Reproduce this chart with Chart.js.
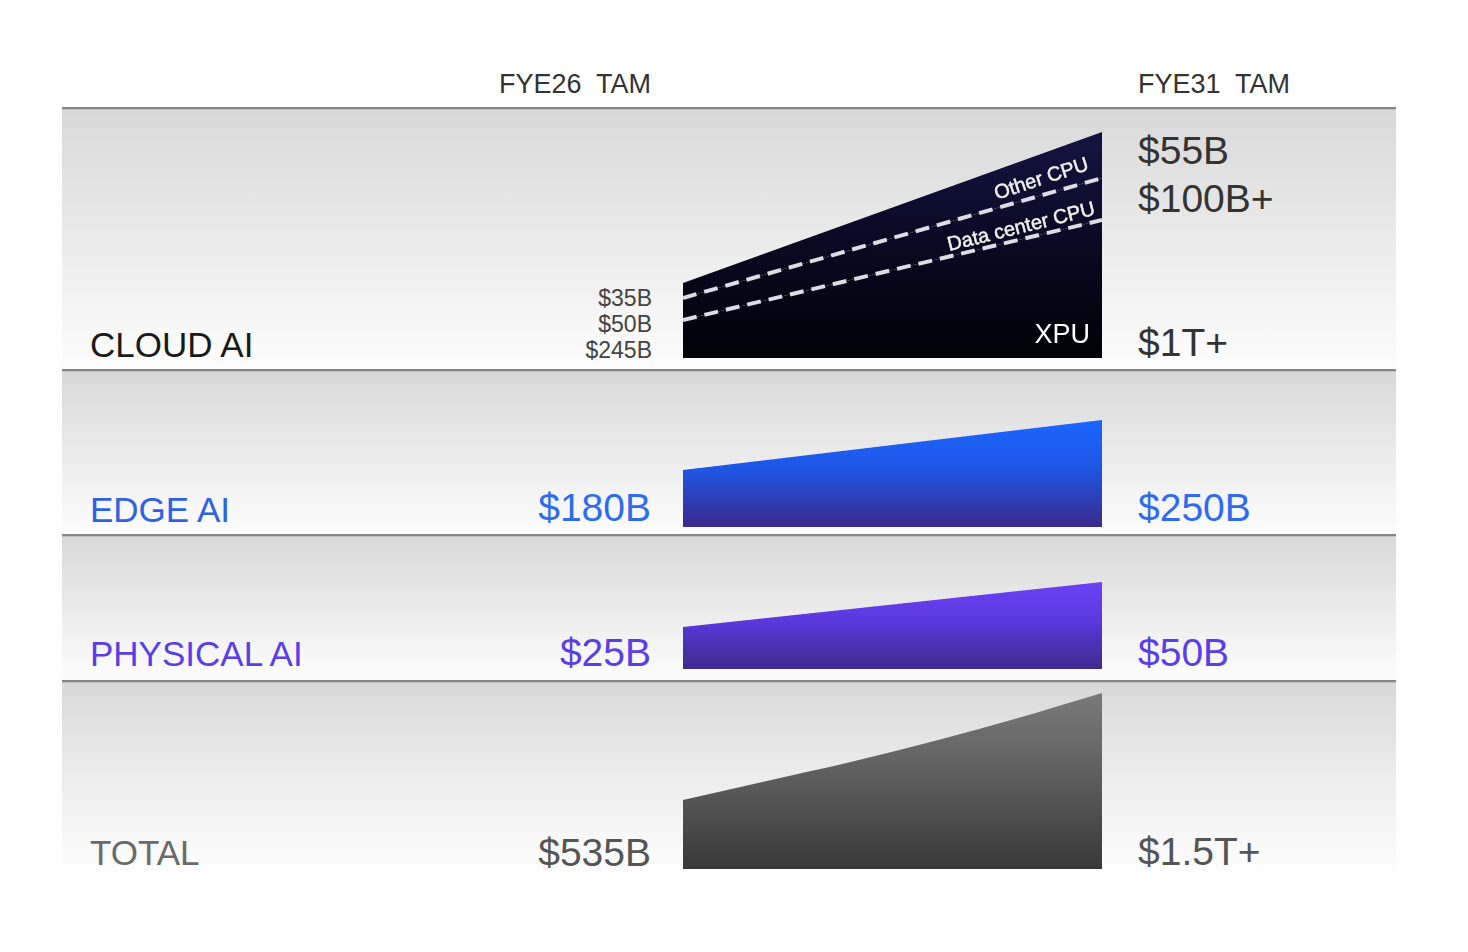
<!DOCTYPE html>
<html>
<head>
<meta charset="utf-8">
<script src="https://cdn.jsdelivr.net/npm/chart.js@4.4.1/dist/chart.umd.min.js"></script>
<style>
  html, body { margin: 0; padding: 0; background: #ffffff; }
  body { width: 1468px; height: 952px; position: relative; overflow: hidden;
         font-family: "Liberation Sans", Arial, Helvetica, sans-serif; }
  .band { position: absolute; left: 62px; width: 1334px;
          background: linear-gradient(to bottom, #d9d9d9 0%, #e9e9e9 45%, #fdfdfd 100%); }
  .rule { position: absolute; left: 62px; width: 1334px; height: 2px; background: #868686;
          box-shadow: 0 1px 0 #c0c0c0; }
  .txt { position: absolute; white-space: pre; line-height: 1; }
  canvas { position: absolute; }
</style>
</head>
<body>
<div class="band" style="top:110px;height:259px"></div>
<div class="band" style="top:372px;height:162px"></div>
<div class="band" style="top:537px;height:143px"></div>
<div class="band" style="top:683px;height:190px;background:linear-gradient(to bottom,#d9d9d9 0%,#ebebeb 45%,#fefefe 100%)"></div>
<div class="rule" style="top:107px"></div>
<div class="rule" style="top:369px"></div>
<div class="rule" style="top:534px"></div>
<div class="rule" style="top:680px"></div>

<canvas id="cCloud" width="419" height="238" style="left:683px;top:120px"></canvas>
<canvas id="cEdge" width="419" height="117" style="left:683px;top:410px"></canvas>
<canvas id="cPhys" width="419" height="99" style="left:683px;top:570px"></canvas>
<canvas id="cTotal" width="419" height="184" style="left:683px;top:685px"></canvas>

<script>
// ---- data (shape heights; FYE26 -> FYE31) ----
const years = [26, 31];
const cloudXPU = [38, 138];
const cloudDataCenterCPU = [22, 42];
const cloudOtherCPU = [15, 46];
const edgeAI = [57, 107];
const physicalAI = [42, 87];
const totalYears = [26, 27, 28, 29, 30, 31];
const totalAI = [69, 88, 107, 128, 151, 176];

// ---- text ----
const headers = ['FYE26  TAM', 'FYE31  TAM'];
const rowNames = ['CLOUD AI', 'EDGE AI', 'PHYSICAL AI', 'TOTAL'];
const tamFYE26 = ['$180B', '$25B', '$535B'];      // edge, physical, total
const tamFYE31 = ['$250B', '$50B', '$1.5T+'];     // edge, physical, total
const cloudSegNames = ['Other CPU', 'Data center CPU', 'XPU'];
const cloudFYE26 = ['$35B', '$50B', '$245B'];
const cloudFYE31 = ['$55B', '$100B+', '$1T+'];

function pts(xs, ys) { return xs.map((x, i) => ({ x: x, y: ys[i] })); }

function gradFill(stops, maxVal) {
  return function (ctx) {
    const chart = ctx.chart;
    const area = chart.chartArea;
    if (!area) return stops[0][1];
    const yTop = chart.scales.y.getPixelForValue(maxVal);
    const g = chart.ctx.createLinearGradient(0, yTop, 0, area.bottom);
    stops.forEach(s => g.addColorStop(s[0], s[1]));
    return g;
  };
}

function makeChart(id, datasets, yMax, stacked) {
  return new Chart(document.getElementById(id), {
    type: 'line',
    data: { datasets: datasets },
    options: {
      responsive: false,
      animation: false,
      events: [],
      layout: { padding: 0 },
      elements: { point: { radius: 0 }, line: { tension: 0 } },
      plugins: { legend: { display: false }, tooltip: { enabled: false } },
      scales: {
        x: { type: 'linear', min: 26, max: 31, display: false },
        y: { min: 0, max: yMax, display: false, stacked: !!stacked }
      }
    }
  });
}

const cloudMax = cloudXPU[1] + cloudDataCenterCPU[1] + cloudOtherCPU[1];
const cloudGrad = gradFill([[0, '#141442'], [0.5, '#090922'], [1, '#010106']], cloudMax);

makeChart('cCloud', [
  { label: cloudSegNames[2], data: pts(years, cloudXPU), fill: 'origin',
    backgroundColor: cloudGrad, borderColor: '#dcdce4', borderWidth: 4,
    borderDash: [14, 8], borderCapStyle: 'butt' },
  { label: cloudSegNames[1], data: pts(years, cloudDataCenterCPU), fill: '-1',
    backgroundColor: cloudGrad, borderColor: '#dcdce4', borderWidth: 4,
    borderDash: [14, 8], borderCapStyle: 'butt' },
  { label: cloudSegNames[0], data: pts(years, cloudOtherCPU), fill: '-1',
    backgroundColor: cloudGrad, borderColor: 'rgba(0,0,0,0)', borderWidth: 0 }
], 238, true);

makeChart('cEdge', [
  { label: rowNames[1], data: pts(years, edgeAI), fill: 'origin',
    backgroundColor: gradFill([[0, '#1a66ff'], [0.45, '#1f56e6'], [1, '#3a2a8c']], edgeAI[1]),
    borderColor: 'rgba(0,0,0,0)', borderWidth: 0 }
], 117);

makeChart('cPhys', [
  { label: rowNames[2], data: pts(years, physicalAI), fill: 'origin',
    backgroundColor: gradFill([[0, '#6b42f6'], [0.45, '#5a38dc'], [1, '#3f2a8c']], physicalAI[1]),
    borderColor: 'rgba(0,0,0,0)', borderWidth: 0 }
], 99);

makeChart('cTotal', [
  { label: rowNames[3], data: pts(totalYears, totalAI), fill: 'origin',
    cubicInterpolationMode: 'monotone',
    backgroundColor: gradFill([[0, '#7a7a7a'], [0.5, '#5c5c5c'], [1, '#383838']], totalAI[totalAI.length - 1]),
    borderColor: 'rgba(0,0,0,0)', borderWidth: 0 }
], 184);

// ---- labels ----
function addText(text, x, y, o) {
  const d = document.createElement('div');
  d.className = 'txt';
  d.textContent = text;
  d.style.left = x + 'px';
  d.style.top = y + 'px';
  d.style.fontSize = o.size + 'px';
  d.style.color = o.color;
  if (o.weight) d.style.fontWeight = o.weight;
  if (o.stroke) d.style.webkitTextStroke = o.stroke;
  let tx = o.align === 'right' ? '-100%' : (o.align === 'center' ? '-50%' : '0');
  d.style.transform = 'translate(' + tx + ',-50%)' + (o.rotate ? ' rotate(' + o.rotate + 'deg)' : '');
  document.body.appendChild(d);
}

addText(headers[0], 651, 84, { size: 27, color: '#333', align: 'right' });
addText(headers[1], 1138, 84, { size: 27, color: '#333' });

addText(rowNames[0], 90, 344, { size: 35, color: '#1a1a1a' });
addText(rowNames[1], 90, 509, { size: 35, color: '#2e62e4' });
addText(rowNames[2], 90, 653, { size: 35, color: '#5a3ee6' });
addText(rowNames[3], 90, 852, { size: 35, color: '#6a6a6a' });

addText(cloudFYE26[0], 652, 298, { size: 23, color: '#444', align: 'right' });
addText(cloudFYE26[1], 652, 324, { size: 23, color: '#444', align: 'right' });
addText(cloudFYE26[2], 652, 350, { size: 23, color: '#444', align: 'right' });

addText(cloudFYE31[0], 1138, 150, { size: 39, color: '#333' });
addText(cloudFYE31[1], 1138, 198, { size: 39, color: '#333' });
addText(cloudFYE31[2], 1138, 342, { size: 39, color: '#333' });

addText(cloudSegNames[2], 1090, 334, { size: 27, color: '#ffffff', align: 'right' });
addText(cloudSegNames[0], 1041, 178, { size: 20, color: '#f0f0f0', align: 'center', rotate: -18, stroke: '0.5px #f0f0f0' });
addText(cloudSegNames[1], 1021, 226, { size: 20, color: '#f0f0f0', align: 'center', rotate: -14, stroke: '0.5px #f0f0f0' });

addText(tamFYE26[0], 651, 507, { size: 39, color: '#2d6bf0', align: 'right' });
addText(tamFYE31[0], 1138, 507, { size: 39, color: '#2d6bf0' });
addText(tamFYE26[1], 651, 652, { size: 39, color: '#5a3ee6', align: 'right' });
addText(tamFYE31[1], 1138, 652, { size: 39, color: '#5a3ee6' });
addText(tamFYE26[2], 651, 852, { size: 39, color: '#555', align: 'right' });
addText(tamFYE31[2], 1138, 851, { size: 39, color: '#555' });
</script>
</body>
</html>
